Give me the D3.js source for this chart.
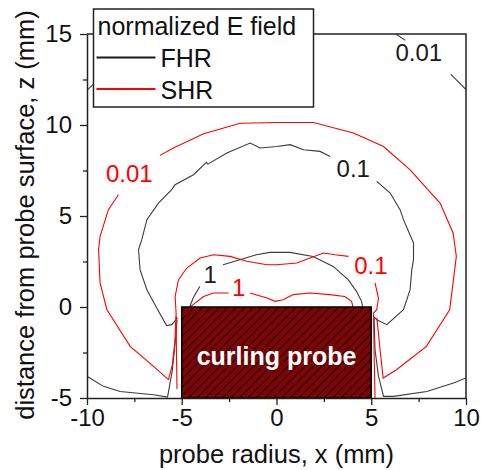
<!DOCTYPE html>
<html>
<head>
<meta charset="utf-8">
<script src="https://cdn.jsdelivr.net/npm/d3@7"></script>
<style>
  body { margin: 0; background: #fff; }
  svg text { font-family: "Liberation Sans", Arial, sans-serif; }
</style>
</head>
<body>
<div id="chart"></div>
<script>
// contour lines of the normalized E field, [x (mm), z (mm)]
// FHR = black, SHR = red; broken where a label sits
var fhr001Left = [[-10, 11.9], [-9.7, 12.2], [-9.2, 12.7]];
var fhr001Top = [[6.3, 15], [6.8, 14.65]];
var fhr001Right = [[9.2, 12.78], [10, 11.95]];

var fhr01Left = [[-5.22, -0.6], [-5.53, -0.97], [-5.8, -1.02], [-6.32, -0.05], [-6.84, 0.95], [-7.2, 2.05],
  [-7.28, 3.15], [-7.11, 3.7], [-6.84, 4.8], [-6.23, 5.71], [-5.53, 6.45], [-5.35, 6.72],
  [-4.38, 7.27], [-3.7, 7.95], [-3.62, 7.85], [-2.62, 8.46], [-1.39, 9.01], [-0.87, 8.74],
  [0.02, 8.82], [0.72, 8.92], [1.42, 8.64], [2.3, 8.55], [2.83, 8.27]];
var fhr01Right = [[5.29, 6.9], [6.0, 6.26], [6.52, 5.35], [6.7, 4.8], [7.23, 3.52], [7.23, 2.6],
  [7.14, 2.05], [7.05, 0.95], [6.7, -0.15], [5.82, -0.97], [5.29, -0.7], [5.12, -0.52]];

var fhrWallLeft = [[-10, -3.81], [-9.13, -4.36], [-8.25, -4.64], [-6.49, -4.82], [-5.75, -4.95],
  [-5.5, -3.5], [-5.3, -1.5], [-5.25, -0.7]];
var fhrWallRight = [[5.15, -0.6], [5.2, -2.35], [5.38, -3.8], [5.65, -4.91], [6.17, -4.91],
  [7.93, -4.64], [9.34, -4.18], [10, -3.9]];

var fhr1Left = [[-4.58, 0.0], [-4.4, 0.49], [-4.05, 1.13]];
var fhr1Right = [[-2.82, 2.32], [-1.94, 2.6], [-1.06, 2.87], [-0.35, 3.0], [0.7, 3.0], [1.93, 2.78],
  [2.99, 2.23], [3.78, 1.5], [4.22, 0.86], [4.49, 0.31], [4.54, 0.0]];

var shr001Lower = [[-5.3, -0.5], [-5.37, -1.98], [-5.5, -3.2], [-5.7, -3.99], [-6.49, -3.26],
  [-7.72, -2.16], [-8.95, -0.15], [-9.31, 1.32], [-9.39, 3.15], [-9.31, 3.88], [-8.87, 5.35],
  [-8.34, 6.17]];
var shr001Upper = [[-6.15, 8.33], [-5.44, 8.74], [-3.85, 9.52], [-2.97, 9.78], [-1.92, 10.1],
  [0, 10.14], [1.95, 10.14], [4.06, 9.56], [5.65, 8.82], [7.05, 7.54], [8.63, 5.71],
  [9.32, 4.07], [9.49, 2.78], [9.14, -0.15], [7.91, -2.16], [6.33, -3.45], [5.63, -3.9],
  [5.45, -2.2], [5.3, -0.6]];

var shr01Left = [[-5.25, -4.5], [-5.28, -2.5], [-5.3, -0.3], [-5.35, 0.58], [-5.17, 1.5],
  [-4.73, 2.14], [-4.03, 2.69], [-3.32, 2.87], [-2.45, 2.78], [-1.57, 2.51], [-0.51, 2.32],
  [0.02, 2.32], [1.07, 2.42], [1.77, 2.69], [2.48, 2.97], [3.09, 2.87], [3.8, 2.78]];
var shr01Right = [[5.2, 1.32], [5.38, 0.49], [5.29, -0.15], [5.12, -0.33], [5.15, -2.5], [5.2, -5]];

var shr1Left = [[-4.56, 0.0], [-4.4, 0.13], [-3.85, 0.58], [-3.33, 0.77], [-2.53, 0.77]];
var shr1Right = [[-1.39, 0.77], [-0.51, 0.49], [-0.07, 0.31], [0.35, 0.4], [0.88, 0.68],
  [1.76, 0.77], [2.81, 0.68], [3.6, 0.58], [3.96, 0.31], [4.04, 0.0]];

var fhrLines = [fhr001Left, fhr001Top, fhr001Right, fhr01Left, fhr01Right, fhrWallLeft, fhrWallRight, fhr1Left, fhr1Right];
var shrLines = [shr001Lower, shr001Upper, shr01Left, shr01Right, shr1Left, shr1Right];

// contour level labels
var labelText = ["0.01", "0.1", "1", "0.01", "0.1", "1"];
var labelSeries = ["FHR", "FHR", "FHR", "SHR", "SHR", "SHR"];
var labelX = [7.51, 4.05, -3.5, -7.77, 4.98, -2.0];
var labelZ = [14.0, 7.6, 1.78, 7.32, 2.27, 1.1];

// probe body
var probeX = [-5, 5];
var probeZ = [-5, 0];

var xMajor = [-10, -5, 0, 5, 10];
var xMinor = [-7.5, -2.5, 2.5, 7.5];
var yMajor = [-5, 0, 5, 10, 15];
var yMinor = [-2.5, 2.5, 7.5, 12.5];

var seriesNames = ["FHR", "SHR"];
var seriesColors = ["#1a1a1a", "#ff0000"];

var W = 481, H = 470;
var margin = {top: 34, right: 15, bottom: 72, left: 87};

var svg = d3.select("#chart").append("svg")
    .attr("width", W)
    .attr("height", H);

var x = d3.scaleLinear().domain([-10, 10]).range([margin.left, W - margin.right]);
var y = d3.scaleLinear().domain([-5, 15]).range([H - margin.bottom, margin.top]);
var color = d3.scaleOrdinal().domain(seriesNames).range(seriesColors);

var defs = svg.append("defs");
defs.append("clipPath").attr("id", "plot-clip")
  .append("rect")
    .attr("x", x(-10)).attr("y", y(15))
    .attr("width", x(10) - x(-10)).attr("height", y(-5) - y(15));

var hatch = defs.append("pattern")
    .attr("id", "hatch")
    .attr("patternUnits", "userSpaceOnUse")
    .attr("width", 6).attr("height", 6)
    .attr("patternTransform", "rotate(45)");
hatch.append("rect").attr("width", 6).attr("height", 6).attr("fill", "#7a0606");
hatch.append("line").attr("x1", 0).attr("y1", 0).attr("x2", 0).attr("y2", 6)
    .attr("stroke", "#2b0000").attr("stroke-width", 2.2);

var line = d3.line().x(function(d){ return x(d[0]); }).y(function(d){ return y(d[1]); });

var plot = svg.append("g").attr("clip-path", "url(#plot-clip)");

plot.selectAll(".fhr").data(fhrLines).enter().append("path")
    .attr("class", "fhr")
    .attr("d", line)
    .attr("fill", "none")
    .attr("stroke", color("FHR"))
    .attr("stroke-width", 1.1)
    .attr("stroke-opacity", 0.85);

plot.selectAll(".shr").data(shrLines).enter().append("path")
    .attr("class", "shr")
    .attr("d", line)
    .attr("fill", "none")
    .attr("stroke", color("SHR"))
    .attr("stroke-width", 1.1);

// the probe
plot.append("rect")
    .attr("x", x(probeX[0]))
    .attr("y", y(probeZ[1]))
    .attr("width", x(probeX[1]) - x(probeX[0]))
    .attr("height", y(probeZ[0]) - y(probeZ[1]))
    .attr("fill", "url(#hatch)")
    .attr("stroke", "#000")
    .attr("stroke-width", 1.5);

svg.append("text")
    .attr("x", x((probeX[0] + probeX[1]) / 2))
    .attr("y", y(-3.17))
    .attr("text-anchor", "middle")
    .attr("fill", "#fff")
    .style("font-size", "25px")
    .style("font-weight", "bold")
    .text("curling probe");

// contour labels
svg.selectAll(".clabel").data(labelText).enter().append("text")
    .attr("class", "clabel")
    .attr("x", function(d, i){ return x(labelX[i]); })
    .attr("y", function(d, i){ return y(labelZ[i]); })
    .attr("dy", "0.36em")
    .attr("text-anchor", "middle")
    .attr("fill", function(d, i){ return color(labelSeries[i]); })
    .style("font-size", "24px")
    .text(function(d){ return d; });

// axes
var frameColor = "#222";
var fmt = function(d){ return d < 0 ? "-" + Math.abs(d) : String(d); };

var xAxis = svg.append("g")
    .attr("transform", "translate(0," + y(-5) + ")")
    .call(d3.axisBottom(x).tickValues(xMajor).tickSize(7).tickSizeOuter(0).tickPadding(4)
      .tickFormat(fmt));
svg.append("g")
    .attr("class", "minor")
    .attr("transform", "translate(0," + y(-5) + ")")
    .call(d3.axisBottom(x).tickValues(xMinor).tickSize(4).tickSizeOuter(0).tickFormat(""))
    .select(".domain").remove();

var yAxis = svg.append("g")
    .attr("transform", "translate(" + x(-10) + ",0)")
    .call(d3.axisLeft(y).tickValues(yMajor).tickSize(7).tickSizeOuter(0).tickPadding(8)
      .tickFormat(fmt));
svg.append("g")
    .attr("class", "minor")
    .attr("transform", "translate(" + x(-10) + ",0)")
    .call(d3.axisLeft(y).tickValues(yMinor).tickSize(4).tickSizeOuter(0).tickFormat(""))
    .select(".domain").remove();

svg.selectAll(".minor text").remove();
svg.selectAll(".tick line").attr("stroke", frameColor).attr("stroke-width", 1.3);
svg.selectAll(".domain").attr("stroke", frameColor).attr("stroke-width", 1.5);
[xAxis, yAxis].forEach(function(ax){
  ax.selectAll(".tick text")
    .attr("fill", "#111")
    .style("font-size", "24px")
    .style("font-family", "'Liberation Sans', Arial, sans-serif");
});

// top and right frame
svg.append("path")
    .attr("d", "M" + x(-10) + "," + y(15) + "H" + x(10) + "V" + y(-5))
    .attr("fill", "none")
    .attr("stroke", frameColor)
    .attr("stroke-width", 1.5);

svg.append("text")
    .attr("x", x(0))
    .attr("y", 463)
    .attr("text-anchor", "middle")
    .attr("fill", "#111")
    .style("font-size", "25.5px")
    .text("probe radius, x (mm)");

svg.append("text")
    .attr("transform", "translate(34," + 215 + ") rotate(-90)")
    .attr("text-anchor", "middle")
    .attr("fill", "#111")
    .style("font-size", "25.5px")
    .text("distance from probe surface, z (mm)");

// legend
var legend = svg.append("g").attr("transform", "translate(93.5,9)");
legend.append("rect")
    .attr("width", 220).attr("height", 98)
    .attr("fill", "#fff")
    .attr("stroke", frameColor)
    .attr("stroke-width", 1.5);
legend.append("text")
    .attr("x", 4).attr("y", 26)
    .attr("fill", "#111")
    .style("font-size", "25px")
    .text("normalized E field");

var item = legend.selectAll(".item").data(seriesNames).enter().append("g")
    .attr("class", "item")
    .attr("transform", function(d, i){ return "translate(0," + (48.5 + i * 31.5) + ")"; });
item.append("line")
    .attr("x1", 3).attr("x2", 62)
    .attr("stroke", function(d){ return color(d); })
    .attr("stroke-width", function(d){ return d === "FHR" ? 2.2 : 1.8; });
item.append("text")
    .attr("x", 67).attr("y", 9.5)
    .attr("fill", "#111")
    .style("font-size", "25px")
    .text(function(d){ return d; });
</script>
</body>
</html>
